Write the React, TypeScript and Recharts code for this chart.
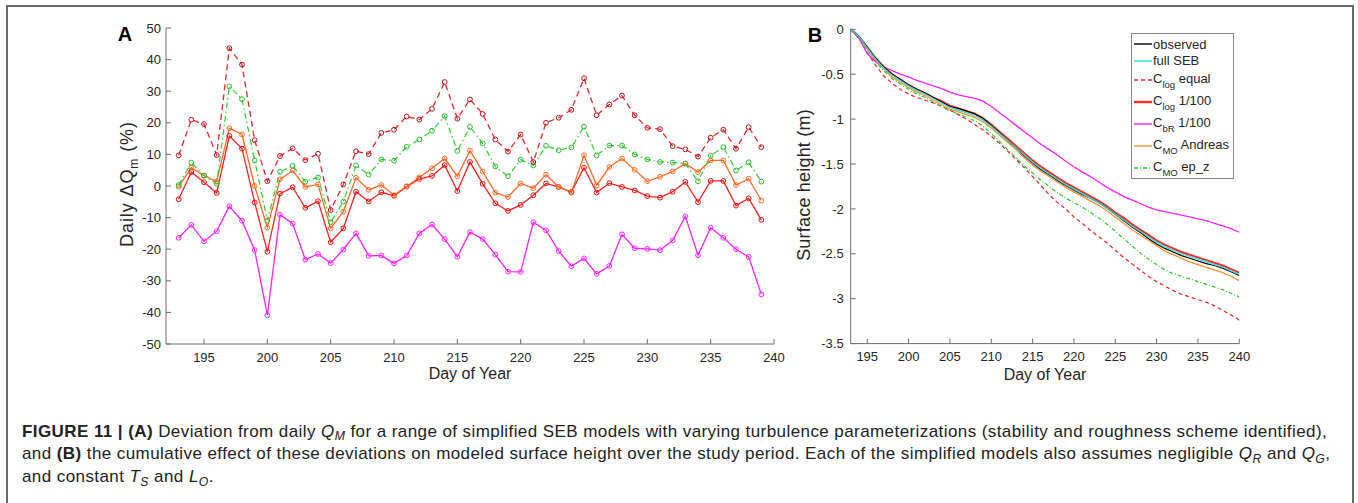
import React from "react";
import { Legend, Line, LineChart, XAxis, YAxis } from "recharts";

// ---- panel A: daily deviation of Q_M (%) ----
const daysA = [
  193, 194, 195, 196, 197, 198, 199, 200, 201, 202, 203, 204, 205, 206, 207, 208,
  209, 210, 211, 212, 213, 214, 215, 216, 217, 218, 219, 220, 221, 222, 223, 224,
  225, 226, 227, 228, 229, 230, 231, 232, 233, 234, 235, 236, 237, 238, 239,
];
const logEqualA = [
  9.7, 21.0, 19.6, 9.8, 43.6, 38.4, 14.5, 1.5, 9.5, 11.9, 8.2, 10.2, -7.6, 0.5, 11.0, 10.1,
  16.8, 17.8, 22.0, 21.0, 24.4, 32.9, 21.3, 27.4, 22.8, 14.7, 10.9, 16.3, 7.6, 20.0, 21.6, 24.1,
  34.1, 22.4, 25.8, 28.6, 22.4, 18.4, 18.0, 12.6, 11.6, 9.3, 15.3, 17.8, 11.8, 18.6, 12.3,
];
const moEpzA = [
  0.3, 7.4, 3.3, 0.7, 31.5, 27.5, 8.1, -10.9, 4.5, 6.4, 1.4, 2.7, -11.5, -4.9, 6.5, 3.6,
  8.4, 8.0, 12.4, 14.7, 17.5, 22.1, 11.1, 18.7, 13.5, 6.2, 3.1, 8.3, 6.5, 12.7, 11.3, 12.2,
  18.8, 9.7, 12.8, 12.8, 10.0, 8.4, 7.6, 7.4, 7.1, 1.5, 9.6, 12.3, 4.9, 7.5, 1.4,
];
const moAndreasA = [
  -0.2, 5.8, 3.3, 1.4, 18.3, 16.3, 0.0, -13.2, 2.1, 4.9, -0.3, 0.5, -13.4, -8.1, 2.6, -1.2,
  0.3, -2.9, -0.1, 2.7, 5.6, 8.7, 3.1, 11.2, 4.6, -2.1, -3.5, 0.8, -0.7, 3.6, -0.3, -2.1,
  9.7, 0.2, 6.0, 8.7, 5.1, 1.5, 2.9, 4.6, 7.1, 4.4, 8.1, 8.1, 0.3, 2.3, -4.6,
];
const log100A = [
  -4.2, 4.4, 1.2, -2.2, 15.9, 11.8, -5.2, -20.8, -2.4, -0.4, -6.9, -4.8, -17.8, -13.4, -1.8, -4.9,
  -2.0, -3.1, -0.2, 2.2, 3.2, 6.6, -1.6, 7.6, 0.7, -5.5, -7.9, -6.0, -2.9, 0.8, -0.3, -1.9,
  5.8, -2.1, 0.9, -0.3, -1.4, -3.2, -3.7, -1.8, 1.3, -5.1, 1.6, 1.6, -6.2, -3.9, -10.7,
];
const bR100A = [
  -16.4, -12.3, -17.5, -14.3, -6.4, -11.0, -20.3, -40.9, -9.1, -11.9, -23.3, -21.5, -24.4, -20.1, -15.0, -22.1,
  -22.0, -24.5, -22.0, -15.0, -12.2, -16.8, -22.4, -14.6, -16.8, -21.7, -27.1, -27.2, -11.5, -14.0, -20.6, -25.4,
  -22.9, -27.8, -25.3, -15.3, -19.7, -19.9, -20.3, -17.2, -9.6, -21.9, -13.2, -16.4, -20.0, -22.4, -34.3,
];

// ---- panel B: cumulative surface height (m) ----
const daysB = [
  193, 194, 195, 196, 197, 198, 199, 200, 201, 202, 203, 204, 205, 206, 207, 208,
  209, 210, 211, 212, 213, 214, 215, 216, 217, 218, 219, 220, 221, 222, 223, 224,
  225, 226, 227, 228, 229, 230, 231, 232, 233, 234, 235, 236, 237, 238, 239, 240,
];
const observedB = [
  0, -0.08, -0.2, -0.32, -0.42, -0.5, -0.56, -0.62, -0.67, -0.71, -0.76, -0.81, -0.86, -0.88, -0.91, -0.94,
  -0.99, -1.07, -1.15, -1.24, -1.32, -1.41, -1.49, -1.56, -1.62, -1.68, -1.74, -1.79, -1.84, -1.88, -1.93, -1.99,
  -2.06, -2.13, -2.2, -2.26, -2.33, -2.39, -2.44, -2.48, -2.52, -2.55, -2.58, -2.61, -2.63, -2.66, -2.7, -2.74,
];
const fullSebB = [
  0, -0.08, -0.21, -0.33, -0.43, -0.51, -0.57, -0.63, -0.68, -0.72, -0.77, -0.82, -0.87, -0.9, -0.93, -0.96,
  -1.01, -1.08, -1.16, -1.24, -1.32, -1.4, -1.48, -1.55, -1.61, -1.67, -1.73, -1.78, -1.83, -1.88, -1.93, -1.99,
  -2.06, -2.12, -2.19, -2.25, -2.31, -2.37, -2.42, -2.46, -2.5, -2.53, -2.56, -2.59, -2.62, -2.65, -2.69, -2.73,
];
const logEqualB = [
  0, -0.1, -0.26, -0.4, -0.52, -0.6, -0.67, -0.72, -0.76, -0.79, -0.82, -0.86, -0.9, -0.95, -1.0, -1.06,
  -1.12, -1.19, -1.27, -1.36, -1.45, -1.54, -1.64, -1.74, -1.84, -1.93, -2.0, -2.09, -2.16, -2.24, -2.31, -2.38,
  -2.46, -2.54, -2.61, -2.68, -2.75, -2.81, -2.86, -2.91, -2.95, -2.98, -3.01, -3.04, -3.08, -3.13, -3.18, -3.24,
];
const log100B = [
  0, -0.08, -0.2, -0.32, -0.42, -0.5, -0.56, -0.62, -0.67, -0.71, -0.76, -0.8, -0.85, -0.88, -0.91, -0.94,
  -0.99, -1.06, -1.14, -1.22, -1.3, -1.38, -1.46, -1.53, -1.59, -1.65, -1.71, -1.76, -1.81, -1.86, -1.91, -1.97,
  -2.04, -2.1, -2.17, -2.23, -2.29, -2.35, -2.4, -2.44, -2.48, -2.51, -2.54, -2.57, -2.6, -2.63, -2.67, -2.71,
];
const bR100B = [
  0, -0.1, -0.27, -0.36, -0.42, -0.46, -0.5, -0.53, -0.57, -0.6, -0.63, -0.66, -0.7, -0.73, -0.75, -0.77,
  -0.8, -0.86, -0.93, -1.0, -1.07, -1.14, -1.21, -1.28, -1.34, -1.4, -1.47, -1.53, -1.59, -1.64, -1.7, -1.76,
  -1.81, -1.86, -1.9, -1.94, -1.98, -2.01, -2.03, -2.05, -2.07, -2.09, -2.11, -2.13, -2.16, -2.19, -2.22, -2.26,
];
const moAndreasB = [
  0, -0.09, -0.22, -0.34, -0.44, -0.53, -0.59, -0.65, -0.7, -0.74, -0.79, -0.84, -0.89, -0.92, -0.95, -0.98,
  -1.03, -1.1, -1.18, -1.26, -1.34, -1.43, -1.51, -1.58, -1.64, -1.7, -1.76, -1.81, -1.86, -1.91, -1.96, -2.02,
  -2.09, -2.16, -2.23, -2.29, -2.35, -2.41, -2.47, -2.51, -2.55, -2.59, -2.62, -2.65, -2.68, -2.71, -2.75, -2.8,
];
const moEpzB = [
  0, -0.09, -0.23, -0.36, -0.46, -0.55, -0.61, -0.67, -0.72, -0.76, -0.81, -0.86, -0.91, -0.94, -0.98, -1.02,
  -1.08, -1.16, -1.25, -1.34, -1.43, -1.52, -1.6, -1.68, -1.75, -1.82, -1.88, -1.93, -1.98, -2.04, -2.1, -2.17,
  -2.25, -2.33, -2.41, -2.49, -2.56, -2.62, -2.68, -2.72, -2.75, -2.78, -2.81, -2.84, -2.87, -2.9, -2.94, -2.98,
];

const dayTicks = [195, 200, 205, 210, 215, 220, 225, 230, 235, 240];
const ticksA = [-50, -40, -30, -20, -10, 0, 10, 20, 30, 40, 50];
const ticksB = [-3.5, -3, -2.5, -2, -1.5, -1, -0.5, 0];

const dataA = daysA.map((day, i) => ({
  day,
  logEqual: logEqualA[i],
  moEpz: moEpzA[i],
  moAndreas: moAndreasA[i],
  log100: log100A[i],
  bR100: bR100A[i],
}));

const dataB = daysB.map((day, i) => ({
  day,
  observed: observedB[i],
  fullSeb: fullSebB[i],
  logEqual: logEqualB[i],
  log100: log100B[i],
  bR100: bR100B[i],
  moAndreas: moAndreasB[i],
  moEpz: moEpzB[i],
}));

const FONT = "'Liberation Sans', Arial, sans-serif";
const AXIS = "#6e6e6e";
const TXT = "#262626";
const TICK = 5;

const legendItems = [
  { key: "observed", name: "observed", sub: "", tail: "", color: "#000000", dash: "", width: 1.4 },
  { key: "fullSeb", name: "full SEB", sub: "", tail: "", color: "#22e2e6", dash: "", width: 1.4 },
  { key: "logEqual", name: "C", sub: "log", tail: " equal", color: "#e8232b", dash: "4 3", width: 1.4 },
  { key: "log100", name: "C", sub: "log", tail: " 1/100", color: "#ff2a2a", dash: "", width: 2.4 },
  { key: "bR100", name: "C", sub: "bR", tail: " 1/100", color: "#ff22ff", dash: "", width: 1.4 },
  { key: "moAndreas", name: "C", sub: "MO", tail: " Andreas", color: "#f7922c", dash: "", width: 1.4 },
  { key: "moEpz", name: "C", sub: "MO", tail: " ep_z", color: "#2ec82e", dash: "4 2 1 2", width: 1.4 },
];

function BottomTick(props: any) {
  const { x, y, payload } = props;
  return (
    <g>
      <line x1={x} x2={x} y1={y} y2={y - TICK} stroke={AXIS} />
      <text x={x} y={y + 17.5} textAnchor="middle" fontSize={13} fill={TXT} fontFamily={FONT}>
        {payload.value}
      </text>
    </g>
  );
}

function TopTick(props: any) {
  const { x, y } = props;
  return <line x1={x} x2={x} y1={y} y2={y + TICK} stroke={AXIS} />;
}

function LeftTick(props: any) {
  const { x, y, payload } = props;
  return (
    <g>
      <line x1={x} x2={x + TICK} y1={y} y2={y} stroke={AXIS} />
      <text x={x - 5} y={y + 4.6} textAnchor="end" fontSize={13} fill={TXT} fontFamily={FONT}>
        {payload.value}
      </text>
    </g>
  );
}

function LeftTickB(props: any) {
  const { x, y, payload } = props;
  return (
    <g>
      <line x1={x} x2={x + TICK} y1={y} y2={y} stroke={AXIS} />
      <text x={x - 7} y={y + 4.6} textAnchor="end" fontSize={13} fill={TXT} fontFamily={FONT}>
        {payload.value}
      </text>
    </g>
  );
}

function RightTick(props: any) {
  const { x, y } = props;
  return <line x1={x} x2={x - TICK} y1={y} y2={y} stroke={AXIS} />;
}

function LegendBox() {
  return (
    <div
      style={{
        width: 103,
        height: 146,
        border: "1px solid #8a8a8a",
        background: "#fff",
        boxSizing: "border-box",
        fontFamily: FONT,
        fontSize: 13,
        color: TXT,
        paddingTop: 2,
      }}
    >
      {legendItems.map((it) => (
        <div
          key={it.key}
          style={{
            display: "flex",
            alignItems: "center",
            height: it.sub ? 22 : 16.5,
          }}
        >
          <svg width={20} height={10} style={{ marginLeft: 1, flex: "none" }}>
            <line
              x1={1}
              x2={19}
              y1={5}
              y2={5}
              stroke={it.color}
              strokeWidth={it.width}
              strokeDasharray={it.dash || undefined}
            />
          </svg>
          <span style={{ whiteSpace: "nowrap", position: "relative", top: it.sub ? -2 : 0 }}>
            {it.name}
            {it.sub && (
              <span style={{ fontSize: 9.5, position: "relative", top: 5 }}>{it.sub}</span>
            )}
            {it.tail}
          </span>
        </div>
      ))}
    </div>
  );
}

function PanelA() {
  return (
    <LineChart
      width={700}
      height={400}
      data={dataA}
      margin={{ top: 28, right: 26, bottom: 0, left: 0 }}
    >
      <XAxis
        dataKey="day"
        type="number"
        domain={[192, 240]}
        ticks={dayTicks}
        interval={0}
        height={56}
        tickSize={0}
        tickMargin={0}
        tick={BottomTick}
        axisLine={{ stroke: AXIS }}
        allowDataOverflow
      />
      <XAxis
        xAxisId="top"
        orientation="top"
        dataKey="day"
        type="number"
        domain={[192, 240]}
        ticks={dayTicks}
        interval={0}
        height={0}
        tickSize={0}
        tickMargin={0}
        tick={TopTick}
        axisLine={{ stroke: AXIS }}
        allowDataOverflow
      />
      <YAxis
        type="number"
        domain={[-50, 50]}
        ticks={ticksA}
        interval={0}
        width={66}
        tickSize={0}
        tickMargin={0}
        tick={LeftTick}
        axisLine={{ stroke: AXIS }}
        allowDataOverflow
      />
      <YAxis
        yAxisId="right"
        orientation="right"
        type="number"
        domain={[-50, 50]}
        ticks={ticksA}
        interval={0}
        width={0}
        tickSize={0}
        tickMargin={0}
        tick={RightTick}
        axisLine={{ stroke: AXIS }}
        allowDataOverflow
      />
      <Line
        dataKey="bR100"
        stroke="#ff22ff"
        strokeWidth={1.3}
        dot={{ r: 2.4, fill: "none", stroke: "#ff22ff", strokeWidth: 1 }}
        activeDot={false}
        isAnimationActive={false}
      />
      <Line
        dataKey="log100"
        stroke="#ff2020"
        strokeWidth={1.3}
        dot={{ r: 2.4, fill: "none", stroke: "#e01010", strokeWidth: 1 }}
        activeDot={false}
        isAnimationActive={false}
      />
      <Line
        dataKey="moAndreas"
        stroke="#ff6a26"
        strokeWidth={1.3}
        dot={{ r: 2.4, fill: "none", stroke: "#ff6a26", strokeWidth: 1 }}
        activeDot={false}
        isAnimationActive={false}
      />
      <Line
        dataKey="moEpz"
        stroke="#33cc33"
        strokeWidth={1.2}
        strokeDasharray="6 3 1.5 3"
        dot={{ r: 2.4, fill: "none", stroke: "#2dbb2d", strokeWidth: 1, strokeDasharray: "" }}
        activeDot={false}
        isAnimationActive={false}
      />
      <Line
        dataKey="logEqual"
        stroke="#e22a30"
        strokeWidth={1.3}
        strokeDasharray="6 4"
        dot={{ r: 2.4, fill: "none", stroke: "#b8141c", strokeWidth: 1, strokeDasharray: "" }}
        activeDot={false}
        isAnimationActive={false}
      />
    </LineChart>
  );
}

function PanelB() {
  return (
    <LineChart
      width={480}
      height={400}
      data={dataB}
      margin={{ top: 29.3, right: 20.7, bottom: 0, left: 0 }}
    >
      <XAxis
        dataKey="day"
        type="number"
        domain={[193, 240]}
        ticks={dayTicks}
        interval={0}
        height={56.4}
        tickSize={0}
        tickMargin={0}
        tick={BottomTick}
        axisLine={{ stroke: AXIS }}
        allowDataOverflow
      />
      <XAxis
        xAxisId="top"
        orientation="top"
        dataKey="day"
        type="number"
        domain={[193, 240]}
        ticks={dayTicks}
        interval={0}
        height={0}
        tickSize={0}
        tickMargin={0}
        tick={TopTick}
        axisLine={{ stroke: AXIS }}
        allowDataOverflow
      />
      <YAxis
        type="number"
        domain={[-3.5, 0]}
        ticks={ticksB}
        interval={0}
        width={70.7}
        tickSize={0}
        tickMargin={0}
        tick={LeftTickB}
        axisLine={{ stroke: AXIS }}
        allowDataOverflow
      />
      <YAxis
        yAxisId="right"
        orientation="right"
        type="number"
        domain={[-3.5, 0]}
        ticks={ticksB}
        interval={0}
        width={0}
        tickSize={0}
        tickMargin={0}
        tick={RightTick}
        axisLine={{ stroke: AXIS }}
        allowDataOverflow
      />
      <Legend
        layout="vertical"
        align="center"
        verticalAlign="middle"
        wrapperStyle={{ left: 351, top: 33, width: 103, height: 146 }}
        content={() => <LegendBox />}
      />
      <Line dataKey="logEqual" stroke="#e8232b" strokeWidth={1.2} strokeDasharray="4 3" dot={false} isAnimationActive={false} />
      <Line dataKey="moEpz" stroke="#2ec82e" strokeWidth={1.2} strokeDasharray="4 2 1 2" dot={false} isAnimationActive={false} />
      <Line dataKey="bR100" stroke="#ff22ff" strokeWidth={1.3} dot={false} isAnimationActive={false} />
      <Line dataKey="moAndreas" stroke="#f7922c" strokeWidth={1.3} dot={false} isAnimationActive={false} />
      <Line dataKey="log100" stroke="#ff2a2a" strokeWidth={2} dot={false} isAnimationActive={false} />
      <Line dataKey="observed" stroke="#000000" strokeWidth={1.2} dot={false} isAnimationActive={false} />
      <Line dataKey="fullSeb" stroke="#22e2e6" strokeWidth={1.2} dot={false} isAnimationActive={false} />
    </LineChart>
  );
}

const abs = (left: number, top: number): React.CSSProperties => ({
  position: "absolute",
  left,
  top,
});

function RotLabel({ cx, cy, spacing, children }: any) {
  return (
    <div
      style={{
        ...abs(cx, cy),
        transform: "translate(-50%, -50%) rotate(-90deg)",
        whiteSpace: "nowrap",
        fontSize: 18,
        letterSpacing: spacing,
        color: TXT,
        fontFamily: FONT,
      }}
    >
      {children}
    </div>
  );
}

function CenterLabel({ cx, cy, size, bold, children }: any) {
  return (
    <div
      style={{
        ...abs(cx, cy),
        transform: "translate(-50%, -50%)",
        whiteSpace: "nowrap",
        fontSize: size,
        fontWeight: bold ? 700 : 400,
        color: bold ? "#000" : TXT,
        fontFamily: FONT,
        lineHeight: 1,
      }}
    >
      {children}
    </div>
  );
}

const sub: React.CSSProperties = { fontSize: "0.72em", position: "relative", top: "0.3em" };

function Caption() {
  const line: React.CSSProperties = {
    position: "absolute",
    left: 22,
    whiteSpace: "nowrap",
    fontSize: 17,
    letterSpacing: 0.42,
    lineHeight: "20px",
    color: "#222",
    fontFamily: FONT,
  };
  return (
    <>
      <div style={{ ...line, top: 421.7 }}>
        <b>FIGURE 11 | (A)</b> Deviation from daily <i>Q</i>
        <i style={sub}>M</i> for a range of simplified SEB models with varying turbulence
        parameterizations (stability and roughness scheme identified),
      </div>
      <div style={{ ...line, top: 444.3 }}>
        and <b>(B)</b> the cumulative effect of these deviations on modeled surface height over
        the study period. Each of the simplified models also assumes negligible <i>Q</i>
        <i style={sub}>R</i> and <i>Q</i>
        <i style={sub}>G</i>,
      </div>
      <div style={{ ...line, top: 467.3 }}>
        and constant <i>T</i>
        <i style={sub}>S</i> and <i>L</i>
        <i style={sub}>O</i>.
      </div>
    </>
  );
}

export default function App() {
  return (
    <div
      style={{
        position: "absolute",
        left: 0,
        top: 0,
        width: 1358,
        height: 503,
        background: "#fff",
        overflow: "hidden",
      }}
    >
      <div
        style={{
          ...abs(6, 5),
          width: 1348,
          height: 600,
          borderLeft: "2px solid #6a6a6a",
          borderTop: "2px solid #6a6a6a",
          borderRight: "2px solid #6a6a6a",
          boxSizing: "border-box",
        }}
      />
      <div style={abs(100, 0)}>
        <PanelA />
      </div>
      <div style={abs(780, 0)}>
        <PanelB />
      </div>
      <CenterLabel cx={125} cy={34} size={20} bold>
        A
      </CenterLabel>
      <CenterLabel cx={815} cy={35} size={20} bold>
        B
      </CenterLabel>
      <RotLabel cx={127} cy={184} spacing={0.9}>
        Daily ΔQ<span style={{ fontSize: 12, position: "relative", top: 5 }}>m</span> (%)
      </RotLabel>
      <RotLabel cx={804} cy={185} spacing={0.2}>
        Surface height (m)
      </RotLabel>
      <CenterLabel cx={470} cy={374} size={16}>
        Day of Year
      </CenterLabel>
      <CenterLabel cx={1045} cy={375} size={16}>
        Day of Year
      </CenterLabel>
      <Caption />
    </div>
  );
}
